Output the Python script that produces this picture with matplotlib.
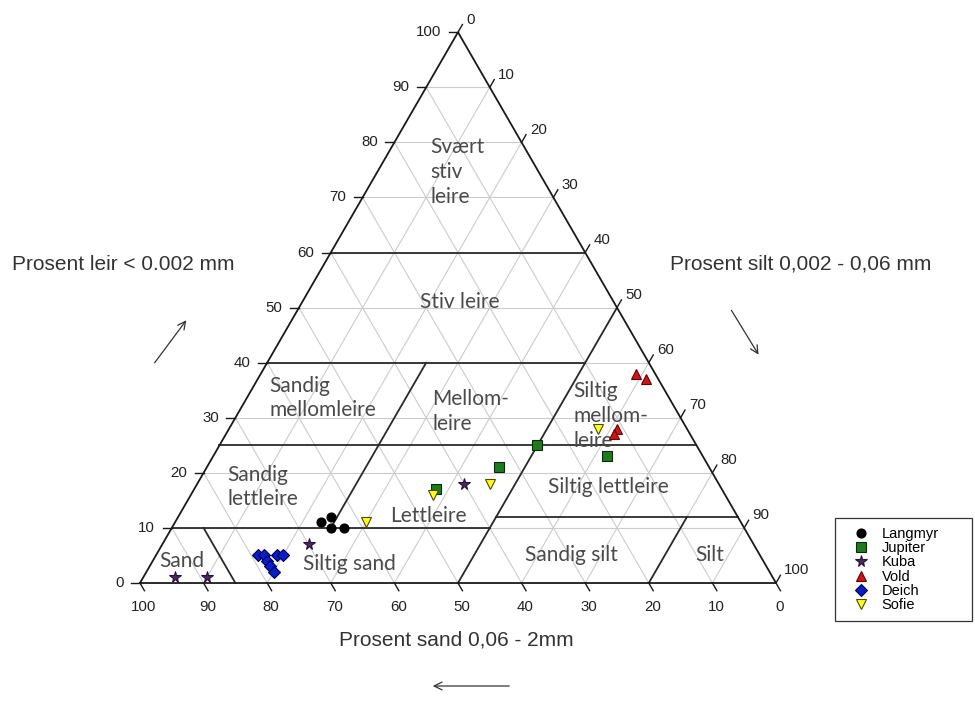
import numpy as np
import matplotlib
matplotlib.use("Agg")
import matplotlib.pyplot as plt
from matplotlib.patches import FancyArrowPatch

# ---- sample compositions (percent sand, silt, clay) ----
langmyr_sand = [66, 64, 63, 65]
langmyr_silt = [23, 24, 27, 25]
langmyr_clay = [11, 12, 10, 10]

jupiter_sand = [25, 33, 45, 15]
jupiter_silt = [50, 46, 38, 62]
jupiter_clay = [25, 21, 17, 23]

kuba_sand = [94, 89, 70, 40]
kuba_silt = [5, 10, 23, 42]
kuba_clay = [1, 1, 7, 18]

vold_sand = [3, 2, 11, 12]
vold_silt = [59, 61, 61, 61]
vold_clay = [38, 37, 28, 27]

deich_sand = [79, 78, 78, 78, 76, 75, 78]
deich_silt = [16, 17, 18, 19, 19, 20, 20]
deich_clay = [5, 5, 4, 3, 5, 5, 2]

sofie_sand = [59, 46, 36, 14]
sofie_silt = [30, 38, 46, 58]
sofie_clay = [11, 16, 18, 28]

tick_values = [0, 10, 20, 30, 40, 50, 60, 70, 80, 90, 100]

# texture class boundaries as (sand, silt, clay) end points
class_lines = [
    ((40, 0, 60), (0, 40, 60)),
    ((60, 0, 40), (10, 50, 40)),
    ((75, 0, 25), (0, 75, 25)),
    ((90, 0, 10), (40, 50, 10)),
    ((38, 50, 12), (0, 88, 12)),
    ((50, 50, 0), (0, 50, 50)),
    ((65, 25, 10), (35, 25, 40)),
    ((85, 15, 0), (85, 5, 10)),
    ((20, 80, 0), (8, 80, 12)),
]

H = np.sqrt(3) / 2
W, HPX = 975, 702


def tern(sand, silt, clay):
    sand = np.asarray(sand, float)
    silt = np.asarray(silt, float)
    clay = np.asarray(clay, float)
    return silt + clay / 2.0, clay * H


def figpos(px, py):
    return px / W, 1 - py / HPX


fig = plt.figure(figsize=(9.75, 7.02), dpi=100)
ax = fig.add_axes([0, 0, 1, 1])
ax.set_xlim(-22.01, 131.29)
ax.set_ylim(-18.71, 91.67)
ax.axis("off")

grid_kw = dict(color="#cccccc", lw=0.8, zorder=1)
for k in range(10, 100, 10):
    x, y = tern([100 - k, 0], [0, 100 - k], [k, k])      # constant clay
    ax.plot(x, y, **grid_kw)
    x, y = tern([100 - k, 0], [k, k], [0, 100 - k])      # constant silt
    ax.plot(x, y, **grid_kw)
    x, y = tern([k, k], [100 - k, 0], [0, 100 - k])      # constant sand
    ax.plot(x, y, **grid_kw)

line_kw = dict(color="#2a2a2a", lw=1.3, zorder=2)
for a, b in class_lines:
    x, y = tern([a[0], b[0]], [a[1], b[1]], [a[2], b[2]])
    ax.plot(x, y, **line_kw)

# outer triangle
x, y = tern([100, 0, 0, 100], [0, 100, 0, 0], [0, 0, 100, 0])
ax.plot(x, y, color="#1a1a1a", lw=1.3, zorder=3)

tick_font = dict(family="Liberation Sans", fontsize=10.8, color="#222222")
tl = 1.4
for v in tick_values:
    # clay on the left edge
    x, y = tern(100 - v, 0, v)
    ax.plot([x - tl, x], [y, y], color="#1a1a1a", lw=1.0)
    ax.text(x - 2.6, y, str(v), ha="right", va="center", **tick_font)
    # silt on the right edge
    x, y = tern(0, v, 100 - v)
    ax.plot([x, x + tl * 0.5], [y, y + tl * H], color="#1a1a1a", lw=1.0)
    ax.text(x + 1.3, y + 2.0, str(v), ha="left", va="center", **tick_font)
    # sand on the base
    x, y = tern(v, 100 - v, 0)
    ax.plot([x, x + tl * 0.5], [y, y - tl * H], color="#1a1a1a", lw=1.0)
    ax.text(x + 0.6, y - 3.8, str(v), ha="center", va="center", **tick_font)

region_font = dict(family="Lato", fontsize=15, color="#4a4a4a", linespacing=1.3)
regions = [
    ("Svært\nstiv\nleire", 45.6, 64.6, "left"),
    ("Stiv leire", 50.3, 44.2, "center"),
    ("Sandig\nmellomleire", 20.3, 29.1, "left"),
    ("Mellom-\nleire", 46.0, 27.0, "left"),
    ("Siltig\nmellom-\nleire", 68.2, 26.3, "left"),
    ("Sandig\nlettleire", 13.8, 15.1, "left"),
    ("Lettleire", 45.4, 10.5, "center"),
    ("Siltig lettleire", 73.6, 15.1, "center"),
    ("Sand", 6.6, 3.5, "center"),
    ("Siltig sand", 33.0, 3.0, "center"),
    ("Sandig silt", 67.8, 4.4, "center"),
    ("Silt", 89.5, 4.4, "center"),
]
for txt, rx, ry, ha in regions:
    ax.text(rx, ry, txt, ha=ha, va="center", zorder=4, **region_font)

series = [
    ("Langmyr", langmyr_sand, langmyr_silt, langmyr_clay,
     dict(marker="o", color="black", mec="black", ms=6.5)),
    ("Jupiter", jupiter_sand, jupiter_silt, jupiter_clay,
     dict(marker="s", color="#1e7b1e", mec="#0a2a0a", ms=6.5)),
    ("Kuba", kuba_sand, kuba_silt, kuba_clay,
     dict(marker="*", color="#4a2a5c", mec="#2a1038", ms=8.5)),
    ("Vold", vold_sand, vold_silt, vold_clay,
     dict(marker="^", color="#cc1515", mec="#6a0000", ms=7.5)),
    ("Deich", deich_sand, deich_silt, deich_clay,
     dict(marker="D", color="#0a1ec8", mec="#00005a", ms=6)),
    ("Sofie", sofie_sand, sofie_silt, sofie_clay,
     dict(marker="v", color="#ffff1a", mec="#4a4a00", ms=7)),
]
handles = []
for name, s, si, c, kw in series:
    x, y = tern(s, si, c)
    h, = ax.plot(x, y, ls="none", mew=0.8, zorder=5, label=name, **kw)
    handles.append(h)

lx, ly = figpos(835, 614)
leg = ax.legend(handles=handles, loc="upper left", mode="expand",
                bbox_to_anchor=(lx, ly, 137 / W, 96 / HPX),
                bbox_transform=fig.transFigure,
                prop=dict(family="Liberation Sans", size=10.5),
                frameon=True, fancybox=False, framealpha=1,
                edgecolor="#333333", borderpad=0.6, labelspacing=0.02,
                handletextpad=0.3, handlelength=2.3, borderaxespad=0)
leg.get_frame().set_linewidth(0.9)

title_font = dict(family="Liberation Sans", fontsize=15, color="#333333")
fig.text(*figpos(12, 264), "Prosent leir < 0.002 mm",
         ha="left", va="center", **title_font)
fig.text(*figpos(670, 264), "Prosent silt 0,002 - 0,06 mm",
         ha="left", va="center", **title_font)
fig.text(*figpos(456, 640), "Prosent sand 0,06 - 2mm",
         ha="center", va="center", **title_font)

arrow_kw = dict(arrowstyle="->", color="#333333", lw=0.9, mutation_scale=14)
for p0, p1 in [((153, 365), (188, 318)),
               ((730, 308), (760, 357)),
               ((512, 686), (430, 686))]:
    fig.patches.append(FancyArrowPatch(figpos(*p0), figpos(*p1),
                                       transform=fig.transFigure, **arrow_kw))

fig.savefig("out.png", dpi=100, facecolor="white")
